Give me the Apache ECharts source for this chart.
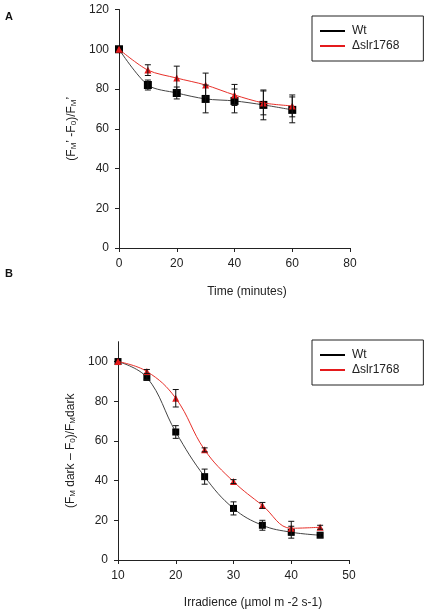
<!DOCTYPE html>
<html>
<head>
<meta charset="utf-8">
<script src="https://cdn.jsdelivr.net/npm/echarts@6/dist/echarts.min.js"></script>
<style>
html,body{margin:0;padding:0;background:#fff;}
#chart{width:431px;height:614px;}
</style>
</head>
<body>
<div id="chart"></div>
<script>
// Panel A: time course
const timeMin = [0, 10, 20, 30, 40, 50, 60];
const wtA = [100, 82, 78, 75, 74, 72, 69.5];
const wtAErr = [0, 2.5, 3, 7, 6, 7.5, 6.5];
const mutA = [100, 89.5, 85.5, 82, 77, 73, 71.5];
const mutAErr = [0, 2.7, 6, 6, 5.3, 6, 5.5];
const xTicksA = [0, 20, 40, 60, 80];
const yTicksA = [0, 20, 40, 60, 80, 100, 120];

// Panel B: irradiance response
const irradiance = [10, 15, 20, 25, 30, 35, 40, 45];
const wtB = [100, 92, 64.5, 42, 26, 17.5, 14, 12.5];
const wtBErr = [0, 1, 3.2, 3.8, 3.3, 2.5, 3, 1];
const mutB = [100, 95, 81.5, 55.5, 39.5, 27.5, 16, 16.5];
const mutBErr = [0, 1, 4.4, 1, 1, 1.5, 3.5, 1];
const xTicksB = [10, 20, 30, 40, 50];
const yTicksB = [0, 20, 40, 60, 80, 100];

const names = ['Wt', '\u0394slr1768'];
const FONT = 'Liberation Sans, Arial, sans-serif';
const TXT = '#222';

const pairs = (xs, ys) => xs.map((x, i) => [x, ys[i]]);
const errData = (xs, ys, es) => xs.map((x, i) => [x, ys[i] - es[i], ys[i] + es[i]]).filter((d, i) => es[i] > 0);

function errRender(params, api) {
  const x = api.value(0);
  const lo = api.coord([x, api.value(1)]);
  const hi = api.coord([x, api.value(2)]);
  const w = 3;
  const st = { stroke: '#111', lineWidth: 1 };
  return {
    type: 'group',
    children: [
      { type: 'line', shape: { x1: lo[0], y1: lo[1], x2: hi[0], y2: hi[1] }, style: st },
      { type: 'line', shape: { x1: lo[0] - w, y1: lo[1], x2: lo[0] + w, y2: lo[1] }, style: st },
      { type: 'line', shape: { x1: hi[0] - w, y1: hi[1], x2: hi[0] + w, y2: hi[1] }, style: st }
    ]
  };
}

const axisCommon = {
  axisLine: { show: true, lineStyle: { color: '#222', width: 1 } },
  axisTick: { show: true, inside: false, length: 4, lineStyle: { color: '#222' } },
  splitLine: { show: false },
  axisLabel: { color: TXT, fontFamily: FONT, fontSize: 12 }
};

const subRich = {
  n: { fontFamily: FONT, fontSize: 12, color: TXT, lineHeight: 14, verticalAlign: 'bottom' },
  s: { fontFamily: FONT, fontSize: 8, color: TXT, lineHeight: 8, verticalAlign: 'bottom' }
};

const legendCommon = {
  orient: 'vertical',
  icon: 'rect',
  itemWidth: 25,
  itemHeight: 2,
  itemGap: 3,
  borderColor: '#222',
  borderWidth: 1,
  padding: [9, 24, 9, 8],
  textStyle: { color: TXT, fontFamily: FONT, fontSize: 12, padding: [0, 0, 0, 2] },
  data: names
};

const option = {
  animation: false,
  backgroundColor: '#fff',
  grid: [
    { left: 119, top: 9.5, width: 231, height: 238.5 },
    { left: 118, top: 341.7, width: 231, height: 218.3 }
  ],
  xAxis: [
    Object.assign({}, axisCommon, {
      gridIndex: 0, type: 'value', min: xTicksA[0], max: xTicksA[xTicksA.length - 1], interval: 20,
      axisLabel: Object.assign({}, axisCommon.axisLabel, { margin: 10 })
    }),
    Object.assign({}, axisCommon, {
      gridIndex: 1, type: 'value', min: xTicksB[0], max: xTicksB[xTicksB.length - 1], interval: 10,
      axisLabel: Object.assign({}, axisCommon.axisLabel, { margin: 10 })
    })
  ],
  yAxis: [
    Object.assign({}, axisCommon, {
      gridIndex: 0, type: 'value', min: yTicksA[0], max: yTicksA[yTicksA.length - 1], interval: 20,
      axisLabel: Object.assign({}, axisCommon.axisLabel, { margin: 10 }),
      name: '{n|(F}{s|M}{n|\u2019 -F}{s|0}{n|)/F}{s|M}{n|\u2019}',
      nameLocation: 'middle', nameGap: 38, nameRotate: 90,
      nameTextStyle: { rich: subRich, fontFamily: FONT, fontSize: 12, color: TXT }
    }),
    Object.assign({}, axisCommon, {
      gridIndex: 1, type: 'value', min: 0, max: 110, interval: 20,
      axisTick: Object.assign({}, axisCommon.axisTick, { customValues: yTicksB }),
      axisLabel: Object.assign({}, axisCommon.axisLabel, { margin: 10, customValues: yTicksB }),
      name: '{n|(F}{s|M}{n| dark \u2013 F}{s|0}{n|)/F}{s|M}{n|dark}',
      nameLocation: 'middle', nameGap: 38, nameRotate: 90,
      nameTextStyle: { rich: subRich, fontFamily: FONT, fontSize: 12, color: TXT }
    })
  ],
  legend: [
    Object.assign({}, legendCommon, { left: 312, top: 16 }),
    Object.assign({}, legendCommon, { left: 312, top: 340 })
  ],
  graphic: [
    { type: 'text', left: 5, top: 11, style: { text: 'A', fontFamily: FONT, fontSize: 11, fontWeight: 'bold', fill: '#111' } },
    { type: 'text', left: 5, top: 268, style: { text: 'B', fontFamily: FONT, fontSize: 11, fontWeight: 'bold', fill: '#111' } },
    { type: 'text', x: 247, y: 292, style: { text: 'Time (minutes)', fontFamily: FONT, fontSize: 12, fill: TXT, align: 'center', verticalAlign: 'middle' } },
    { type: 'text', x: 253, y: 603, style: { text: 'Irradience (\u00b5mol m -2 s-1)', fontFamily: FONT, fontSize: 12, fill: TXT, align: 'center', verticalAlign: 'middle' } }
  ],
  series: [
    { name: names[0], type: 'line', xAxisIndex: 0, yAxisIndex: 0, data: pairs(timeMin, wtA), smooth: 0.3,
      symbol: 'rect', symbolSize: 8, itemStyle: { color: '#000' }, lineStyle: { color: '#444', width: 1 }, color: '#000', z: 3 },
    { name: names[1], type: 'line', xAxisIndex: 0, yAxisIndex: 0, data: pairs(timeMin, mutA), smooth: 0.3,
      symbol: 'triangle', symbolSize: 7, itemStyle: { color: '#e41a1c' }, lineStyle: { color: '#e8302a', width: 1 }, color: '#e41a1c', z: 4 },
    { type: 'custom', xAxisIndex: 0, yAxisIndex: 0, data: errData(timeMin, wtA, wtAErr), renderItem: errRender, z: 5, silent: true },
    { type: 'custom', xAxisIndex: 0, yAxisIndex: 0, data: errData(timeMin, mutA, mutAErr), renderItem: errRender, z: 5, silent: true },
    { name: names[0], type: 'line', xAxisIndex: 1, yAxisIndex: 1, data: pairs(irradiance, wtB), smooth: 0.4,
      symbol: 'rect', symbolSize: 7, itemStyle: { color: '#000' }, lineStyle: { color: '#444', width: 1 }, color: '#000', z: 3 },
    { name: names[1], type: 'line', xAxisIndex: 1, yAxisIndex: 1, data: pairs(irradiance, mutB), smooth: 0.4,
      symbol: 'triangle', symbolSize: 7, itemStyle: { color: '#e41a1c' }, lineStyle: { color: '#e8302a', width: 1 }, color: '#e41a1c', z: 4 },
    { type: 'custom', xAxisIndex: 1, yAxisIndex: 1, data: errData(irradiance, wtB, wtBErr), renderItem: errRender, z: 5, silent: true },
    { type: 'custom', xAxisIndex: 1, yAxisIndex: 1, data: errData(irradiance, mutB, mutBErr), renderItem: errRender, z: 5, silent: true }
  ]
};

const chart = echarts.init(document.getElementById('chart'), null, { renderer: 'canvas' });
chart.setOption(option);
</script>
</body>
</html>
